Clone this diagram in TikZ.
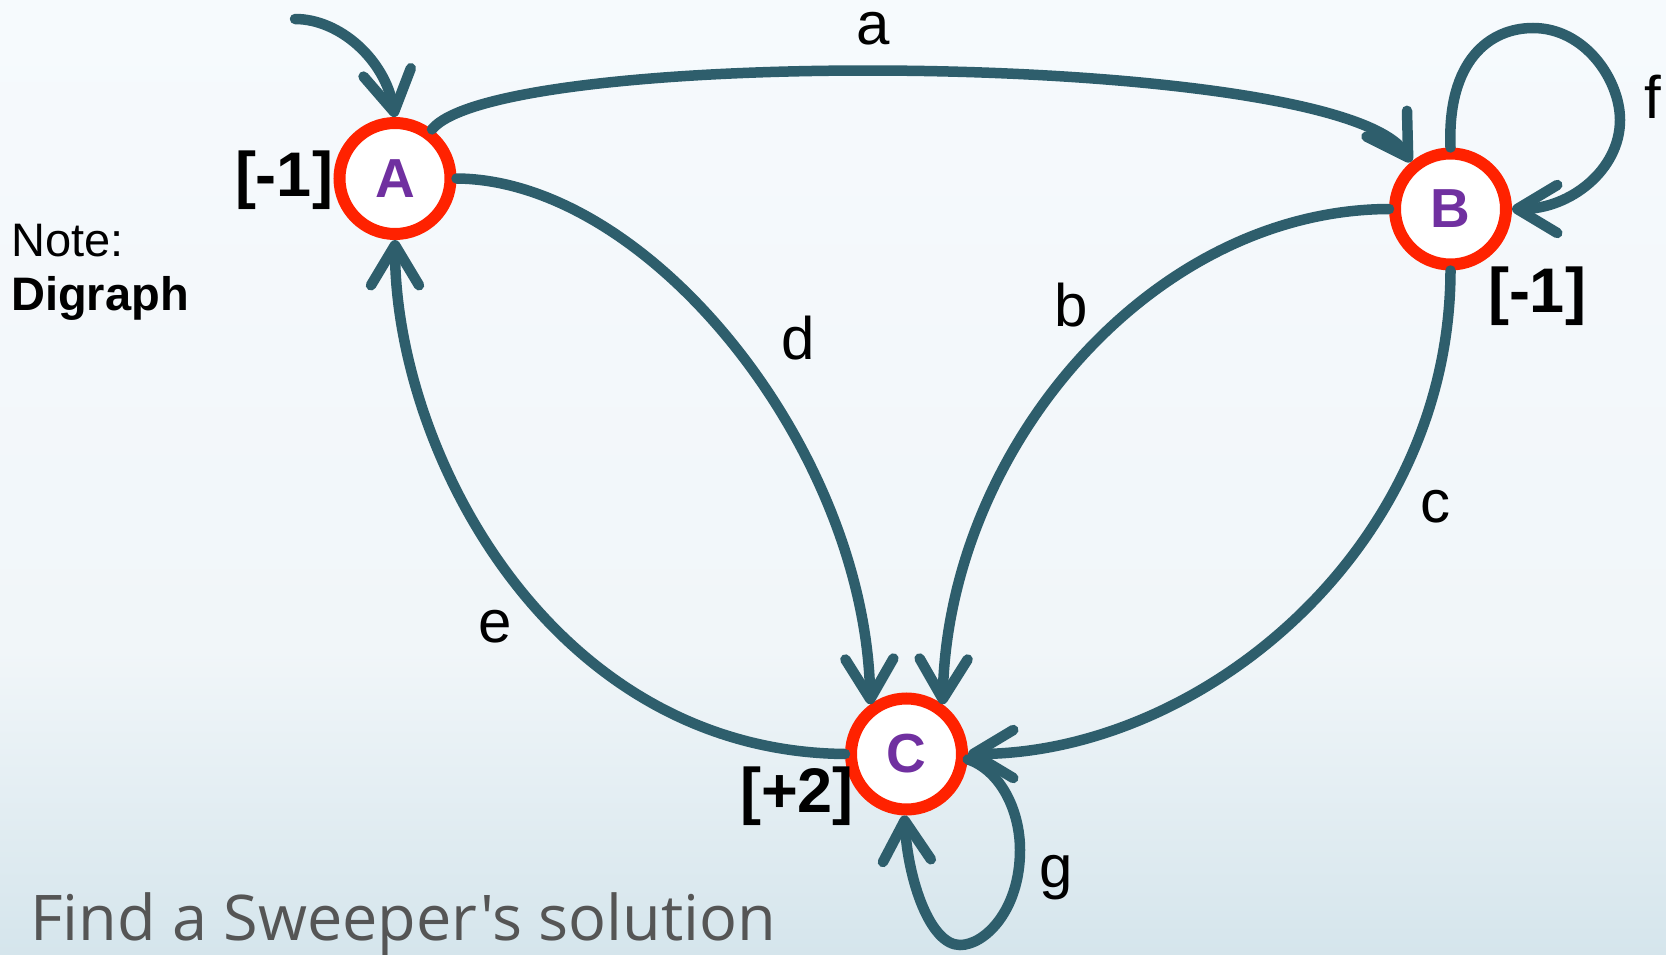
\documentclass[tikz,border=0pt]{standalone}
\usepackage{fontspec}
\setmainfont{Liberation Sans}
\newfontfamily\handfont{Open Sans}
\usetikzlibrary{arrows.meta}
\definecolor{edgecol}{RGB}{46,94,108}
\definecolor{ringred}{RGB}{255,34,0}
\definecolor{letterpurple}{RGB}{112,48,160}
\definecolor{bgtop}{RGB}{246,250,253}
\definecolor{bgmid}{RGB}{241,246,249}
\definecolor{bgbot}{RGB}{213,229,236}
\definecolor{handgray}{RGB}{85,85,85}
\tikzset{
  vertex/.style={circle, draw=ringred, line width=12pt, fill=white, minimum size=111pt, inner sep=0pt,
    text=letterpurple, font=\fontsize{55}{55}\selectfont\bfseries},
  weight/.style={inner sep=0pt, font=\fontsize{63}{63}\selectfont\bfseries},
  elabel/.style={inner sep=0pt, font=\fontsize{60}{60}\selectfont},
  arc/.style={draw=edgecol, line width=10.5pt, line cap=round,
    -{Straight Barb[length=40pt, width=48pt, round]}},
}
\begin{document}
\begin{tikzpicture}[x=1pt, y=-1pt]
\useasboundingbox (0,0) rectangle (1666,955);
\shade[top color=bgtop, bottom color=bgmid] (0,0) rectangle (1666,650);
\shade[top color=bgmid, bottom color=bgbot] (0,650) rectangle (1666,955);

% vertices
\node[vertex] (A) at (395,178.5) {A};
\node[vertex] (B) at (1450.5,209) {B};
\node[vertex] (C) at (906.5,754) {C};

% weights
\node[weight] (wA) at (284,180) {[-1]};
\node[weight] (wB) at (1537,296) {[-1]};
\node[weight] (wC) at (797,796) {[+2]};

% note
\node[anchor=west, inner sep=0pt, font=\fontsize{47}{47}\selectfont] (note) at (11,241) {Note:};
\node[anchor=west, inner sep=0pt, font=\fontsize{47}{47}\selectfont\bfseries] (dig) at (11,298) {Digraph};

% start arrow
\coordinate (start) at (295,19);
\draw[arc] (start) .. controls (340,19) and (385,60) .. (A.north);

% edges
\draw[arc] (A.53) .. controls (500,45) and (1340,50) .. (B.130);
\draw[arc] (B.north) .. controls (1447,60) and (1490,28) .. (1533,28)
  .. controls (1585,28) and (1620,80) .. (1620,120)
  .. controls (1620,170) and (1570,209) .. (B.east);
\draw[arc] (B.west) .. controls (1150,210) and (948,450) .. (C.54);
\draw[arc] (B.south) .. controls (1450,550) and (1200,754) .. (C.east);
\draw[arc] (A.east) .. controls (650,180) and (865,450) .. (C.126);
\draw[arc] (C.west) .. controls (550,751) and (395,450) .. (A.south);
\draw[arc] (C.-5) .. controls (1000,770) and (1020,810) .. (1020,850)
  .. controls (1020,910) and (985,945) .. (960,945)
  .. controls (930,945) and (908,880) .. (C.-92);

% edge labels
\node[elabel] (la) at (873,29) {a};
\node[elabel] (lf) at (1653,97) {f};
\node[elabel] (lb) at (1071,305) {b};
\node[elabel] (lc) at (1435,507) {c};
\node[elabel] (ld) at (798,338) {d};
\node[elabel] (le) at (495,627) {e};
\node[elabel] (lg) at (1056,878) {g};

% bottom text
\node[anchor=base west, inner sep=0pt, text=handgray, font=\handfont\fontsize{63}{63}\selectfont] (find) at (30,940) {Find a Sweeper's solution};
\end{tikzpicture}
\end{document}
